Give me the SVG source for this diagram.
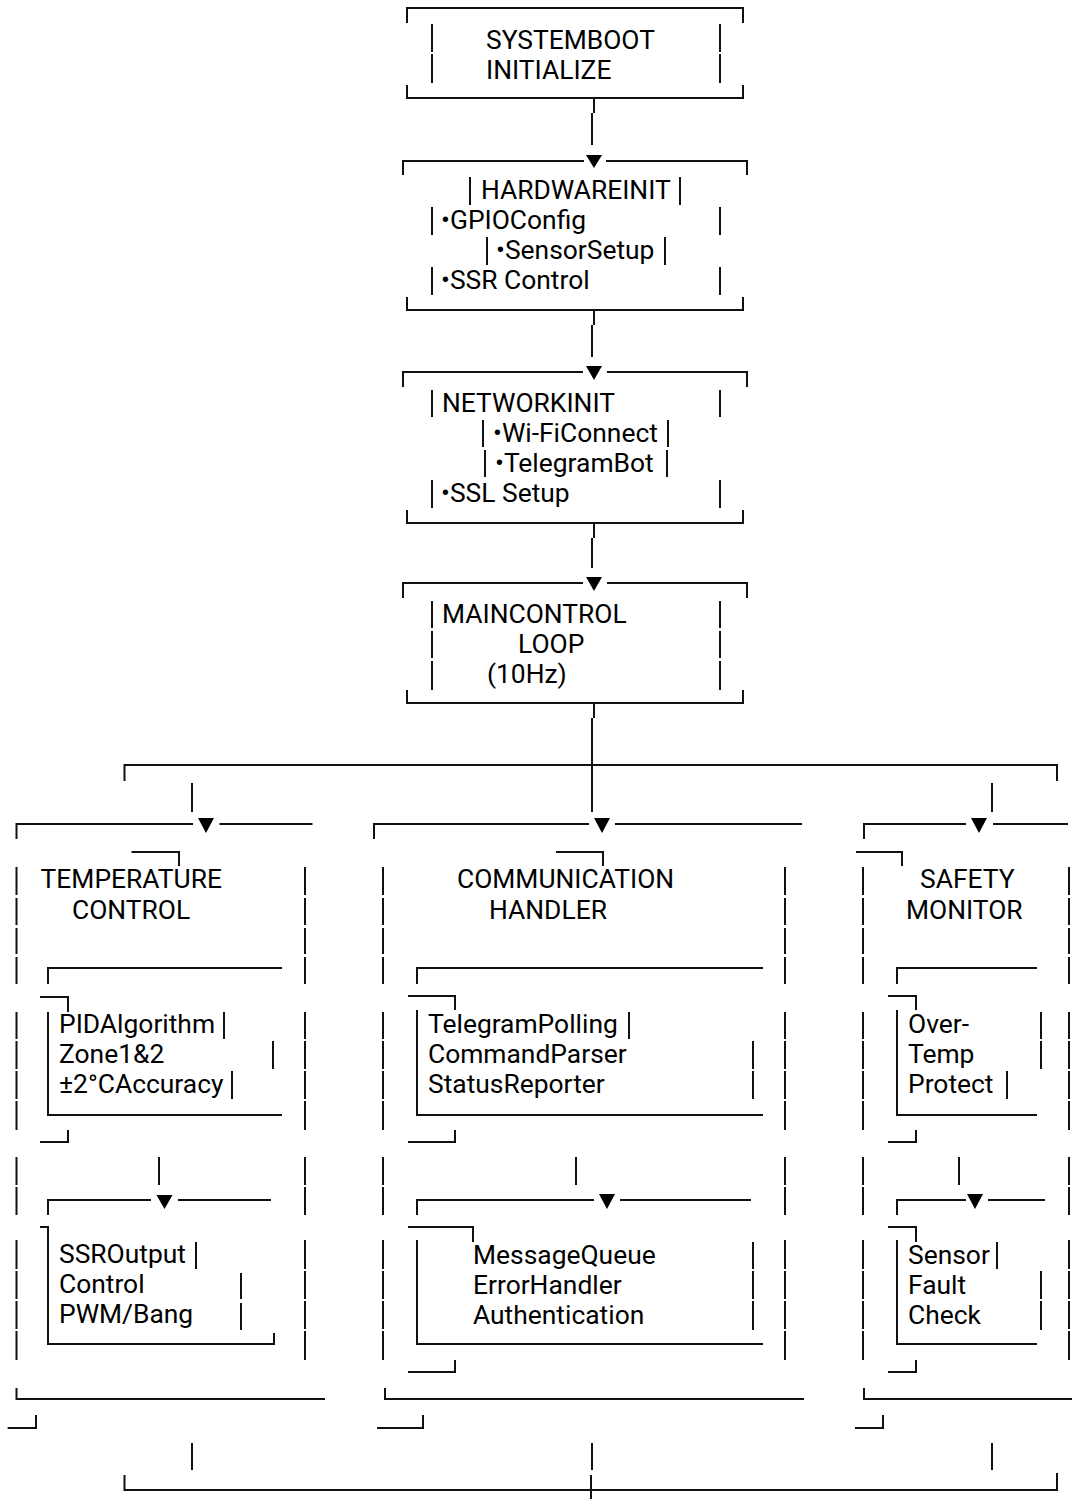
<svg xmlns="http://www.w3.org/2000/svg" width="1072" height="1499" viewBox="0 0 1072 1499">
<style>
.ln{fill:none;stroke:#111;stroke-width:2;stroke-linecap:butt}
.t{font-family:Roboto,"Liberation Sans",sans-serif;font-size:26.4px;fill:#000}
.ar{fill:#000}
</style>
<rect width="1072" height="1499" fill="#fff"/>
<g id="systemboot">
<path class="ln" d="M407 23V8H743V23M432 24V52M432 54V83M720 24V52M720 54V83M407 85V98H743V85"/>
<text class="t" x="486" y="49">SYSTEMBOOT</text>
<text class="t" x="486" y="79">INITIALIZE</text>
</g>
<g id="hardware-init">
<path class="ln" d="M403 175V161H584M606 161H747V175M470 177V205M680 177V205M432 207V235M720 207V235M487 237V265M665 237V265M432 267V295M720 267V295M407 297V310H743V297"/>
<text class="t" x="481" y="199">HARDWAREINIT</text>
<text class="t" x="441" y="229">•GPIOConfig</text>
<text class="t" x="496" y="259">•SensorSetup</text>
<text class="t" x="441" y="289">•SSR Control</text>
</g>
<g id="network-init">
<path class="ln" d="M403 387V372H583M607 372H747V387M432 390V417M720 390V417M483 420V447M668 420V447M485 450V477M667 450V477M432 480V508M720 480V508M407 510V523H743V510"/>
<text class="t" x="442" y="412">NETWORKINIT</text>
<text class="t" x="493" y="442">•Wi-FiConnect</text>
<text class="t" x="495" y="472">•TelegramBot</text>
<text class="t" x="441" y="502">•SSL Setup</text>
</g>
<g id="main-control-loop">
<path class="ln" d="M403 598V583H583M607 583H747V598M432 601V628M432 631V658M432 661V690M720 601V628M720 631V658M720 661V690M407 690V703H743V690"/>
<text class="t" x="442" y="623">MAINCONTROL</text>
<text class="t" x="518" y="653">LOOP</text>
<text class="t" x="487" y="683">(10Hz)</text>
</g>
<g id="temperature-control">
<path class="ln" d="M16.5 839V824H193M219.5 824H312.5M131.5 852H179V866
M16.5 867V895M16.5 898V925M16.5 928V954M16.5 957V984M16.5 1012V1039M16.5 1041V1069M16.5 1071V1099M16.5 1101V1130M16.5 1157V1185M16.5 1187V1215M16.5 1240V1269M16.5 1271V1299M16.5 1301V1329M16.5 1331V1360
M305 867V895M305 898V925M305 928V954M305 957V984M305 1012V1039M305 1041V1069M305 1071V1099M305 1101V1130M305 1157V1185M305 1187V1215M305 1240V1269M305 1271V1299M305 1301V1329M305 1331V1360
M48 984V968H282M40 997H68V1012M48 1012V1115H282M224 1012V1039M273 1041V1069M232 1071V1099M40 1142H68V1130
M159 1157V1185M48 1215V1200H151M178 1200H271M40 1227H48V1344H274V1333M196 1242V1269M241 1273V1299M241 1303V1330
M16.5 1388V1399H325M7.6 1428H36V1415"/>
<path class="ar" d="M156.5 1195H172.5L164.5 1209Z"/>
<text class="t" x="40.6" y="888">TEMPERATURE</text>
<text class="t" x="72" y="919">CONTROL</text>
<text class="t" x="59" y="1033">PIDAlgorithm</text>
<text class="t" x="59" y="1063">Zone1&amp;2</text>
<text class="t" x="59" y="1093">±2°CAccuracy</text>
<text class="t" x="59" y="1263">SSROutput</text>
<text class="t" x="59" y="1293">Control</text>
<text class="t" x="59" y="1323">PWM/Bang</text>
</g>
<g id="communication-handler">
<path class="ln" d="M374 839V824H589M615 824H802M556 852H603V866
M383 867V895M383 898V925M383 928V954M383 957V984M383 1012V1039M383 1041V1069M383 1071V1099M383 1101V1130M383 1157V1185M383 1187V1215M383 1240V1269M383 1271V1299M383 1301V1329M383 1331V1360
M785 867V895M785 898V925M785 928V954M785 957V984M785 1012V1039M785 1041V1069M785 1071V1099M785 1101V1130M785 1157V1185M785 1187V1215M785 1240V1269M785 1271V1299M785 1301V1329M785 1331V1360
M417 984V968H763M408 996H455V1010M417 1010V1115H763M629 1012V1039M753 1041V1069M753 1071V1099M408 1142H455V1130
M576 1157V1185M417 1215V1200H594M620 1200H751M408 1227H473V1242M417 1240V1344H763M753 1242V1269M753 1271V1299M753 1301V1330M408 1372H455V1360
M385 1388V1399H804M377 1428H423V1415"/>
<path class="ar" d="M599 1194H615L607 1209Z"/>
<text class="t" x="457" y="888">COMMUNICATION</text>
<text class="t" x="489" y="919">HANDLER</text>
<text class="t" x="428" y="1033">TelegramPolling</text>
<text class="t" x="428" y="1063">CommandParser</text>
<text class="t" x="428" y="1093">StatusReporter</text>
<text class="t" x="473" y="1264">MessageQueue</text>
<text class="t" x="473" y="1294">ErrorHandler</text>
<text class="t" x="473" y="1324">Authentication</text>
</g>
<g id="safety-monitor">
<path class="ln" d="M864 839V824H966M993 824H1068M856 852H902V866
M863 867V895M863 898V925M863 928V954M863 957V984M863 1012V1039M863 1041V1069M863 1071V1099M863 1101V1130M863 1157V1185M863 1187V1215M863 1240V1269M863 1271V1299M863 1301V1329M863 1331V1360
M1069 867V895M1069 898V925M1069 928V954M1069 957V984M1069 1012V1039M1069 1041V1069M1069 1071V1099M1069 1101V1130M1069 1157V1185M1069 1187V1215M1069 1240V1269M1069 1271V1299M1069 1301V1329M1069 1331V1360
M897 984V968H1037M888 996H916V1010M897 1010V1115H1037M1041 1012V1039M1041 1041V1069M1007 1071V1099M888 1142H916V1130
M959 1157V1185M897 1215V1200H966M988 1200H1045M888 1227H916V1242M897 1240V1344H1037M997 1242V1269M1041 1271V1299M1041 1301V1330M888 1372H916V1360
M864 1388V1399H1072M855 1428H883V1415"/>
<path class="ar" d="M967 1194H983L975 1209Z"/>
<text class="t" x="920" y="888">SAFETY</text>
<text class="t" x="906" y="919">MONITOR</text>
<text class="t" x="908" y="1033">Over-</text>
<text class="t" x="908" y="1063">Temp</text>
<text class="t" x="908" y="1093">Protect</text>
<text class="t" x="908" y="1264">Sensor</text>
<text class="t" x="908" y="1294">Fault</text>
<text class="t" x="908" y="1324">Check</text>
</g>
<g id="connectors">
<path class="ln" d="M594 98V113M592 113V145M594 310V325M592 325V357M594 523V538M592 538V568M594 703V718M592 718V812M124.5 781V765H1057V781M192 783V812M992 783V812M192 1443V1470M592 1443V1470M992 1443V1470M124.5 1475V1490H1057V1473M591 1475V1499"/>
<path class="ar" d="M586 155H602L594 168ZM586 366H602L594 380ZM586 577H602L594 591ZM198 818H214L206 833ZM594 818H610L602 833ZM971 818H987L979 833Z"/>
</g>
</svg>
